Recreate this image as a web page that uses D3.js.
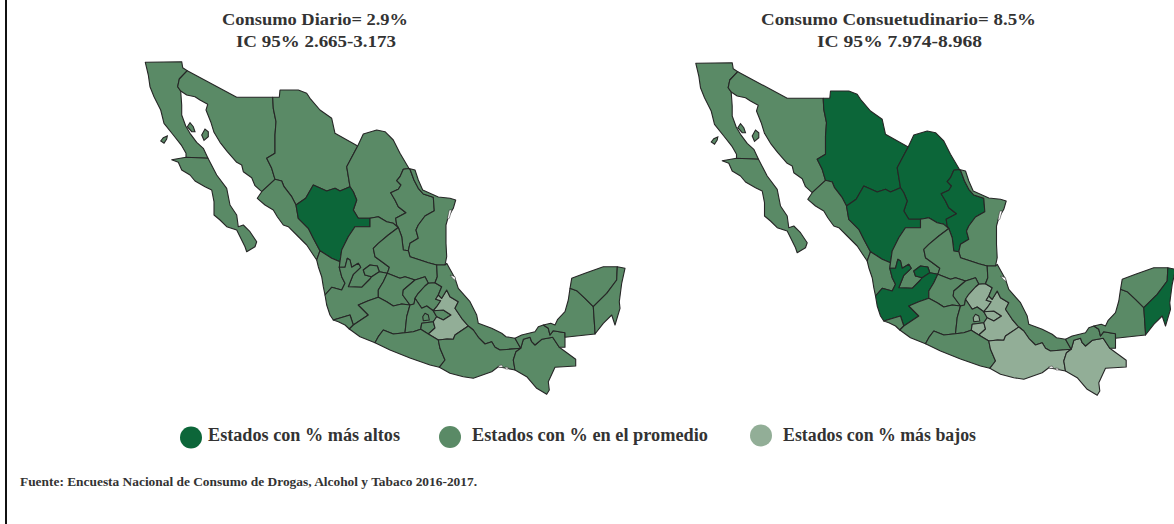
<!DOCTYPE html>
<html>
<head>
<meta charset="utf-8">
<script src="https://d3js.org/d3.v7.min.js"></script>
<style>
  body { margin: 0; background: #fff; }
  text { font-family: "Liberation Serif", serif; font-weight: bold; fill: #333; }
</style>
</head>
<body>
<svg id="chart" width="1174" height="524"></svg>
<script>
const titulos = [
  ["Consumo Diario= 2.9%", "IC 95% 2.665-3.173"],
  ["Consumo Consuetudinario= 8.5%", "IC 95% 7.974-8.968"]
];
const leyenda = ["Estados con % más altos", "Estados con % en el promedio", "Estados con % más bajos"];
const fuente = "Fuente: Encuesta Nacional de Consumo de Drogas, Alcohol y Tabaco 2016-2017.";
const niveles = ["alto", "medio", "bajo"];
const colores = ["#0c6639", "#5a8a66", "#92ae97"];

const altosDiario = ["Durango"];
const bajosDiario = ["Puebla"];
const altosConsuetudinario = ["Chihuahua", "Coahuila", "Nuevo León", "Durango", "Jalisco", "Aguascalientes", "Quintana Roo"];
const bajosConsuetudinario = ["Hidalgo", "Puebla", "Tlaxcala", "Morelos", "Ciudad de México", "Oaxaca", "Chiapas"];

// outlines, in the left map's pixel units
const bajaCalifornia = [[145.3,62.3],[181.7,61.7],[182.7,67.7],[187.3,70.7],[179.3,79],[177.7,86.7],[180.7,91],[181.7,105],[181.7,115],[185.7,126],[190,133.3],[196.7,142.3],[203.3,148.3],[208,158.3],[186,157.3],[186,153.3],[181.7,145.7],[173.3,135],[164,123.3],[160.7,110],[154,96.7],[150,86.7],[148.3,75]];
const bajaCaliforniaSur = [[186,157.3],[171.7,159.7],[178.3,162.3],[181.7,170],[190,175],[195,181],[205,186.7],[211.7,190],[214,201.7],[214,215],[220,220],[226.7,226.7],[236.7,230],[245,246.7],[246.7,251.7],[255,246.7],[256.7,241.7],[250,231.7],[243.3,225],[238.3,226.7],[236.7,215],[230,205],[226.7,188.3],[216.7,175],[208,158.3]];
const sonora = [[187.3,70.7],[236.7,97.3],[272.7,97.3],[273.3,108.3],[276,121.7],[275,135],[275,153.3],[266.7,158.3],[271.7,168.3],[275,179.3],[261.7,191.7],[255,185.7],[251.7,177.7],[243.3,171.7],[241.7,165],[236.7,162.3],[227.3,151.7],[220,142.3],[214,132.3],[210.7,121.7],[206,110],[207.7,104.3],[200,100],[195,96.7],[186.7,95],[180.7,91],[177.7,86.7],[179.3,79]];
const chihuahua = [[272.7,97.3],[279.3,97.3],[280,90],[298.3,90],[306.7,93.3],[310,98.3],[320,110],[331.7,118.3],[335,133.3],[357.7,146],[346.7,166.7],[350,186.7],[340,191],[335,188.3],[326.7,191],[313.3,185],[305.7,198.3],[296,205],[291.7,196.7],[284,186.7],[281.7,181],[275,179.3],[271.7,168.3],[266.7,158.3],[275,153.3],[275,135],[276,121.7],[273.3,108.3]];
const coahuila = [[357.7,146],[363.3,134],[376.7,130],[385,131.7],[393.3,140],[400,153.3],[409,168.5],[403.3,169.3],[400,176.7],[396.7,180.7],[401,185],[398.3,189.3],[390.7,192.7],[395,200],[398.3,206.7],[406,212.7],[395.7,218.3],[396.7,225],[398.3,227.5],[393.3,223.3],[386.7,221.7],[378.3,216.7],[370,218.3],[358.3,218.3],[353.3,210],[356.7,200],[353.3,191.7],[350,186.7],[346.7,166.7]];
const nuevoLeon = [[409,168.5],[403.3,169.3],[400,176.7],[396.7,180.7],[401,185],[398.3,189.3],[390.7,192.7],[395,200],[398.3,206.7],[406,212.7],[395.7,218.3],[396.7,225],[398.3,227.5],[401.7,236.7],[403.3,250],[408.3,250.7],[410,243.3],[418.3,238.3],[416,230],[418.3,225],[425,216],[434.3,210.7],[433.3,197.3],[423.3,194],[418.3,188.3],[414,180],[410.3,170]];
const tamaulipas = [[409,168.5],[410.3,170],[414,180],[418.3,188.3],[423.3,194],[433.3,197.3],[434.3,210.7],[425,216],[418.3,225],[416,230],[418.3,238.3],[410,243.3],[408.3,250.7],[410,256.7],[420,260],[428.3,262.7],[436.7,265],[445,265],[446.7,256.7],[446,243.3],[446,225],[448.3,216.7],[453.3,208.3],[455.7,200],[450,198.3],[438.3,197],[433.3,194.7],[422.7,190],[418.3,180],[415,170]];
const sinaloa = [[275,179.3],[281.7,181],[284,186.7],[291.7,196.7],[296,205],[298.3,218.3],[308.3,228.3],[313.3,238.3],[320,250.7],[316.7,260],[313.3,255],[306.7,245],[296.7,235],[288.3,226.7],[283.3,225],[277.3,216.7],[273.3,210],[265,205],[257.3,198.3],[261.7,191.7]];
const durango = [[296,205],[305.7,198.3],[313.3,185],[326.7,191],[335,188.3],[340,191],[350,186.7],[353.3,191.7],[356.7,200],[353.3,210],[358.3,218.3],[370,218.3],[370,226.7],[355,226.7],[348.3,236.7],[341.7,250],[340,261.7],[331.7,258.3],[320,250.7],[313.3,238.3],[308.3,228.3],[298.3,218.3]];
const nayarit = [[320,250.7],[331.7,258.3],[340,261.7],[339.3,267.3],[341.7,276.7],[345,283.3],[341.7,290],[331.7,287.3],[325,295],[323.3,286.7],[321.7,276.7],[318.3,266.7],[316.7,260]];
const zacatecas = [[370,218.3],[378.3,216.7],[386.7,221.7],[393.3,223.3],[398.3,227.5],[388.3,235],[378.3,243.3],[373.3,248.3],[375,256.7],[383.3,262.7],[389.3,267.3],[387.3,273.3],[379.3,271.7],[377.3,266],[370,265],[363.3,270],[365,275],[371.7,276.7],[370,279],[361.7,287.3],[348.3,286.7],[353.3,274.3],[360.7,267.3],[358.3,263.3],[351.7,267.3],[350,260],[347.3,258.3],[345,267.3],[339.3,267.3],[340,261.7],[341.7,250],[348.3,236.7],[355,226.7],[370,226.7]];
const aguascalientes = [[379.3,271.7],[377.3,266],[370,265],[363.3,270],[365,275],[371.7,276.7]];
const jalisco = [[325,295],[331.7,287.3],[341.7,290],[345,283.3],[341.7,276.7],[339.3,267.3],[345,267.3],[347.3,258.3],[350,260],[351.7,267.3],[358.3,263.3],[360.7,267.3],[353.3,274.3],[348.3,286.7],[361.7,287.3],[370,279],[371.7,276.7],[379.3,271.7],[387.3,273.3],[383.3,281.7],[378.3,290],[378.3,297.3],[368.3,300.7],[358.3,305],[368.3,315],[353.3,325],[350,315],[333.3,320],[330,315],[326.7,305]];
const colima = [[333.3,320],[350,315],[353.3,325],[349.3,329],[345,325],[338.3,321.7]];
const sanLuisPotosi = [[398.3,227.5],[401.7,236.7],[403.3,250],[408.3,250.7],[410,256.7],[420,260],[428.3,262.7],[436.7,265],[437.3,276.7],[435,282.7],[428.3,283.3],[425,276.7],[415,280],[405,276.7],[400,278.3],[387.3,273.3],[389.3,267.3],[383.3,262.7],[375,256.7],[373.3,248.3],[378.3,243.3],[388.3,235]];
const guanajuato = [[387.3,273.3],[400,278.3],[405,276.7],[415,280],[403.3,290],[402.7,295],[410,305],[401.7,304],[393.3,306],[386.7,301.7],[378.3,297.3],[378.3,290],[383.3,281.7]];
const queretaro = [[415,280],[425,276.7],[428.3,283.3],[425,286],[418.3,293.3],[415,298.3],[414,304],[410,305],[402.7,295],[403.3,290]];
const hidalgo = [[428.3,283.3],[435,282.7],[441.7,286.7],[438.3,295],[435.7,299.3],[440.7,300.7],[436.7,306.7],[433.3,310.7],[426.7,306],[421.7,308.3],[415,298.3],[418.3,293.3],[425,286]];
const michoacan = [[358.3,305],[368.3,300.7],[378.3,297.3],[386.7,301.7],[393.3,306],[401.7,304],[410,305],[406.7,316.7],[405,332.7],[393.3,334],[383.3,330],[378.3,336.7],[375,342.7],[360,336.7],[349.3,329],[353.3,325],[368.3,315]];
const mexico = [[410,305],[414,304],[415,298.3],[421.7,308.3],[426.7,306],[433.3,310.7],[436.7,316.7],[433.3,321.7],[421.7,323.3],[420.7,329.3],[413.3,331.7],[405,332.7],[406.7,316.7]];
const cdmx = [[425,313.3],[428.3,315],[429.3,320],[423.3,320.7],[422.7,316.7]];
const morelos = [[433.3,321.7],[435,328],[428.3,334],[420.7,329.3],[421.7,323.3]];
const tlaxcala = [[433.3,310.7],[443.3,310],[451,315],[443.3,320],[436.7,316.7]];
const puebla = [[446.7,290],[450,296.7],[458.3,301.7],[455,308.3],[461.7,318.3],[468.3,326],[455,335],[453.3,339.3],[447,339],[438.3,340],[428.3,334],[435,328],[433.3,321.7],[436.7,316.7],[443.3,320],[451,315],[443.3,310],[433.3,310.7],[436.7,306.7],[440.7,300.7],[435.7,299.3],[438.3,295],[441.7,298.3]];
const guerrero = [[405,332.7],[413.3,331.7],[420.7,329.3],[428.3,334],[438.3,340],[440,348.3],[445,360],[439.3,367.3],[430,365],[410,358],[390,350],[375,342.7],[378.3,336.7],[383.3,330],[393.3,334]];
const veracruz = [[436.7,265],[445,265],[446.7,263.3],[455,278.3],[458.3,288.3],[470,301.7],[476.7,315],[478.3,323.3],[491.7,328.3],[501.7,333.3],[506,336.7],[515,338.3],[520.7,348.3],[500,350],[495,347.3],[491.7,341.7],[485,344],[478.3,337.3],[473.3,330],[468.3,326],[461.7,318.3],[455,308.3],[458.3,301.7],[450,296.7],[446.7,290],[441.7,298.3],[438.3,295],[441.7,286.7],[435,282.7],[437.3,276.7]];
const oaxaca = [[468.3,326],[473.3,330],[478.3,337.3],[485,344],[491.7,341.7],[495,347.3],[500,350],[520.7,348.3],[516,351.7],[513.3,360],[515,370],[498.3,366.7],[491.7,371.7],[473.3,378.3],[463.3,376.7],[450,373.3],[439.3,367.3],[445,360],[440,348.3],[438.3,340],[447,339],[453.3,339.3],[455,335]];
const chiapas = [[520.7,348.3],[523.3,339.3],[530,337.3],[531.7,341.7],[535,345],[541.7,339.3],[552.7,337.3],[559.3,347.3],[575.7,359.3],[575.7,366],[555,367.3],[548.3,381.7],[549.3,390],[546.7,394.3],[536.7,388.3],[526.7,376.7],[515,370],[513.3,360],[516,351.7]];
const tabasco = [[515,338.3],[521.7,335],[535,331.7],[538.3,326.7],[543.3,325],[548.3,328.3],[550,335],[553.3,330.7],[565,332.7],[565,347.3],[559.3,347.3],[552.7,337.3],[541.7,339.3],[535,345],[531.7,341.7],[530,337.3],[523.3,339.3],[520.7,348.3]];
const campeche = [[543.3,325],[550.7,323.3],[555,325],[557.7,319.3],[565,311.7],[568.3,300],[570,288.3],[576.7,290.7],[585,298.3],[593.3,306.7],[595,331.7],[595,334],[565,337.3],[565,332.7],[553.3,330.7],[550,335],[548.3,328.3]];
const yucatan = [[570,288.3],[571.7,278.3],[585,273.3],[603.3,266.7],[617.3,266.7],[616.7,280],[606.7,293.3],[593.3,306.7],[585,298.3],[576.7,290.7]];
const quintanaRoo = [[617.3,266.7],[625,268.3],[621.7,283.3],[619.3,301.7],[620,308.3],[615,325],[611.7,315],[603.3,323.3],[595,334],[595,331.7],[593.3,306.7],[606.7,293.3],[616.7,280]];

const islas = [
  [[160.7,141],[163.3,137.7],[167.3,136],[166.7,139],[164,143.3]],
  [[187.3,126.7],[190,122.7],[193.3,126.7],[195,131.7],[191.7,131.7]],
  [[201.7,135],[205,129],[208.3,131.7],[208.3,136.7],[204,140.3]]
];
const lagunas = [
  [[449.3,210],[451.7,210],[449.3,218.3],[447.3,219.3]],
  [[450,275],[455,276.7],[455.7,280.7],[452.7,278.3]],
  [[498.3,365.7],[501.7,365],[503.3,367.3],[499.3,367.3]],
  [[505,367],[508.3,367.5],[508,369],[505.5,369]]
];

const estados = [
  ["Baja California", bajaCalifornia], ["Baja California Sur", bajaCaliforniaSur], ["Sonora", sonora],
  ["Chihuahua", chihuahua], ["Coahuila", coahuila], ["Nuevo León", nuevoLeon], ["Tamaulipas", tamaulipas],
  ["Sinaloa", sinaloa], ["Durango", durango], ["Nayarit", nayarit], ["Zacatecas", zacatecas],
  ["Aguascalientes", aguascalientes], ["Jalisco", jalisco], ["Colima", colima], ["San Luis Potosí", sanLuisPotosi],
  ["Guanajuato", guanajuato], ["Querétaro", queretaro], ["Hidalgo", hidalgo], ["Michoacán", michoacan],
  ["México", mexico], ["Ciudad de México", cdmx], ["Morelos", morelos], ["Tlaxcala", tlaxcala], ["Puebla", puebla],
  ["Guerrero", guerrero], ["Veracruz", veracruz], ["Oaxaca", oaxaca], ["Chiapas", chiapas], ["Tabasco", tabasco],
  ["Campeche", campeche], ["Yucatán", yucatan], ["Quintana Roo", quintanaRoo]
];

const color = d3.scaleOrdinal().domain(niveles).range(colores);
const svg = d3.select("#chart");

const toFeature = ring => ({ type: "Feature", geometry: { type: "Polygon", coordinates: [[...ring, ring[0]]] } });

const drawMap = (dx, dy, altos, bajos) => {
  const path = d3.geoPath(d3.geoIdentity().translate([dx, dy]));
  const nivel = name => (altos.includes(name) ? "alto" : bajos.includes(name) ? "bajo" : "medio");
  const g = svg.append("g");

  g.selectAll("path.estado")
    .data(estados)
    .enter()
    .append("path")
    .attr("class", "estado")
    .attr("d", d => path(toFeature(d[1])))
    .attr("fill", d => color(nivel(d[0])))
    .attr("stroke", "#262626")
    .attr("stroke-width", 1.1)
    .attr("stroke-linejoin", "round");

  g.selectAll("path.isla")
    .data(islas)
    .enter()
    .append("path")
    .attr("class", "isla")
    .attr("d", d => path(toFeature(d)))
    .attr("fill", color("medio"))
    .attr("stroke", "#262626")
    .attr("stroke-width", 1.1);

  g.selectAll("path.laguna")
    .data(lagunas)
    .enter()
    .append("path")
    .attr("class", "laguna")
    .attr("d", d => path(toFeature(d)))
    .attr("fill", "#fff")
    .attr("stroke", "#262626")
    .attr("stroke-width", 0.5);
};

svg.append("rect").attr("x", 5).attr("y", 0).attr("width", 2).attr("height", 524).attr("fill", "#111");

drawMap(0, 0, altosDiario, bajosDiario);
drawMap(550.5, 1, altosConsuetudinario, bajosConsuetudinario);

// widths forced so the substitute serif fills the same space as the original face
const tituloX = [[222, 236], [761, 817]];
const tituloAncho = [[186, 160], [275, 165]];
titulos.forEach((lineas, i) => {
  lineas.forEach((linea, j) => {
    svg.append("text")
      .attr("x", tituloX[i][j])
      .attr("y", 25 + j * 22)
      .attr("font-size", 17.5)
      .attr("textLength", tituloAncho[i][j])
      .attr("lengthAdjust", "spacingAndGlyphs")
      .text(linea);
  });
});

const circuloX = [191, 450, 761];
const circuloY = [437.5, 437, 435.5];
const textoX = [208, 472, 783];
const textoAncho = [192, 236, 193];
leyenda.forEach((t, i) => {
  svg.append("circle").attr("cx", circuloX[i]).attr("cy", circuloY[i]).attr("r", 11).attr("fill", colores[i]);
  svg.append("text")
    .attr("x", textoX[i])
    .attr("y", 440.5)
    .attr("font-size", 18)
    .attr("textLength", textoAncho[i])
    .attr("lengthAdjust", "spacingAndGlyphs")
    .text(t);
});

svg.append("text")
  .attr("x", 20)
  .attr("y", 486)
  .attr("font-size", 12)
  .attr("textLength", 457)
  .attr("lengthAdjust", "spacingAndGlyphs")
  .text(fuente);
</script>
</body>
</html>
